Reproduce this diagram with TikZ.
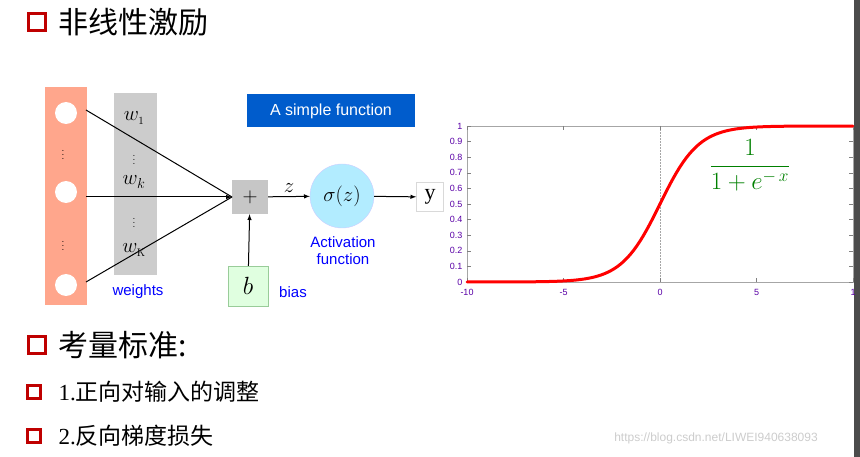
\documentclass[tikz,border=0pt]{standalone}
\usepackage{fontspec}
\newfontfamily\cjk{Noto Sans CJK SC}
\newfontfamily\ls{Liberation Sans}
\newfontfamily\lsr{Liberation Serif}
\begin{document}
\begin{tikzpicture}[x=1pt,y=-1pt,
  redsq/.style={draw=red!75!black,line width=2.2pt,minimum size=#1,inner sep=0pt},
  wire/.style={line width=1pt,-latex},
  tick/.style={font=\ls\fontsize{9}{10}\selectfont,text=violet!70!blue},
  blue text/.style={text=blue,font=\ls\fontsize{15}{17}\selectfont}]
\useasboundingbox (0,0) rectangle (860,457);
\fill[gray!60!black] (854,0) rectangle (860,457);
% titles
\node[redsq=17pt] (s1) at (37,22) {};
\node[anchor=west,font=\cjk\fontsize{30}{32}\selectfont] (t1) at (55,22) {非线性激励};
\node[redsq=17pt] (s2) at (37,345) {};
\node[anchor=west,font=\cjk\fontsize{30}{32}\selectfont] (t2) at (55,345) {考量标准:};
\node[redsq=13pt] (s3) at (34,392) {};
\node[anchor=west,font=\cjk\fontsize{23}{25}\selectfont] (t3) at (55,392) {{\lsr 1.}正向对输入的调整};
\node[redsq=13pt] (s4) at (34,436) {};
\node[anchor=west,font=\cjk\fontsize{23}{25}\selectfont] (t4) at (55,436) {{\lsr 2.}反向梯度损失};
\node[text=gray!40,font=\ls\fontsize{12}{13}\selectfont] (wm) at (716,438) {https://blog.csdn.net/LIWEI940638093};
% network
\fill[orange!45!red!45] (45,87) rectangle (87,305);
\fill[gray!40] (114,93) rectangle (157,275);
\node[circle,fill=white,minimum size=22pt,inner sep=0pt] (x1) at (66,113) {};
\node[circle,fill=white,minimum size=22pt,inner sep=0pt] (xk) at (66,192) {};
\node[circle,fill=white,minimum size=22pt,inner sep=0pt] (xK) at (66,285) {};
\node (d1) at (63,152) {$\vdots$};
\node (d2) at (63,243) {$\vdots$};
\node[font=\fontsize{22}{24}\selectfont] (w1) at (134,118) {$w_{\scriptscriptstyle 1}$};
\node (d3) at (134,157) {$\vdots$};
\node[font=\fontsize{22}{24}\selectfont] (wk) at (134,182) {$w_{k}$};
\node (d4) at (134,220) {$\vdots$};
\node[font=\fontsize{22}{24}\selectfont] (wK) at (134,250) {$w_{\scriptscriptstyle\rm K}$};
\node[fill=gray!45,minimum width=36pt,minimum height=34pt,font=\fontsize{20}{22}\selectfont] (plus) at (250,197) {$+$};
\coordinate (j) at (232,197);
\draw[line width=1pt] (86,110) -- (j);
\draw[line width=1pt] (86,282) -- (j);
\draw[wire] (86,197) -- (j);
\node[circle,fill=blue!25!cyan!30,draw=blue!20,minimum size=64pt,inner sep=0pt,font=\fontsize{22}{24}\selectfont] (sig) at (342,196) {$\sigma(z)$};
\node[draw=gray!30,fill=white,minimum width=27pt,minimum height=29pt,font=\lsr\fontsize{22}{24}\selectfont] (y) at (430,197) {y};
\draw[wire] (plus) -- node[above,font=\fontsize{22}{24}\selectfont] {$z$} (sig);
\draw[wire] (sig) -- (y);
\node[draw=green!50!black!40,fill=green!12,minimum width=40pt,minimum height=40pt,font=\fontsize{24}{26}\selectfont] (b) at (248,286) {$b$};
\draw[wire] (b) -- (plus);
\node[blue text,align=center] (act) at (343,251) {Activation\\function};
\node[blue text] (bias) at (293,292) {bias};
\node[blue text] (wts) at (138,292) {weights};
\node[fill=blue!55!cyan!80!black,text=white,minimum width=168pt,minimum height=33pt,font=\ls\fontsize{16}{18}\selectfont] (asf) at (331,111) {A simple function};
% plot
\draw[gray!70,line width=0.6pt] (467,126) rectangle (853,282);
\draw[gray!70,densely dotted,line width=0.5pt] (660,126) -- (660,282);
\foreach \v/\l in {0/0,1/0.1,2/0.2,3/0.3,4/0.4,5/0.5,6/0.6,7/0.7,8/0.8,9/0.9,10/1}{
  \draw[gray] (467,282-15.6*\v) -- ++(4,0);
  \draw[gray] (853,282-15.6*\v) -- ++(-4,0);
  \node[tick,anchor=east] at (466,282-15.6*\v) {\l};}
\foreach \v/\l in {-10/-10,-5/-5,0/0,5/5,10/1}{
  \draw[gray] (660+19.3*\v,282) -- ++(0,-4);
  \draw[gray] (660+19.3*\v,126) -- ++(0,4);
  \node[tick] at (660+19.3*\v,292) {\l};}
\draw[red,line width=3pt,line cap=round,domain=-10:0,samples=60] plot ({660+19.3*\x},{282-156*exp(\x)/(1+exp(\x))});
\draw[red,line width=3pt,line cap=round,domain=0:10,samples=60] plot ({660+19.3*\x},{282-156/(1+exp(-\x))});
\node[text=green!50!black,font=\fontsize{26}{28}\selectfont] (f) at (750,165) {$\displaystyle{1\over 1+e^{{\rm -}\,x}}$};
\end{tikzpicture}
\end{document}
